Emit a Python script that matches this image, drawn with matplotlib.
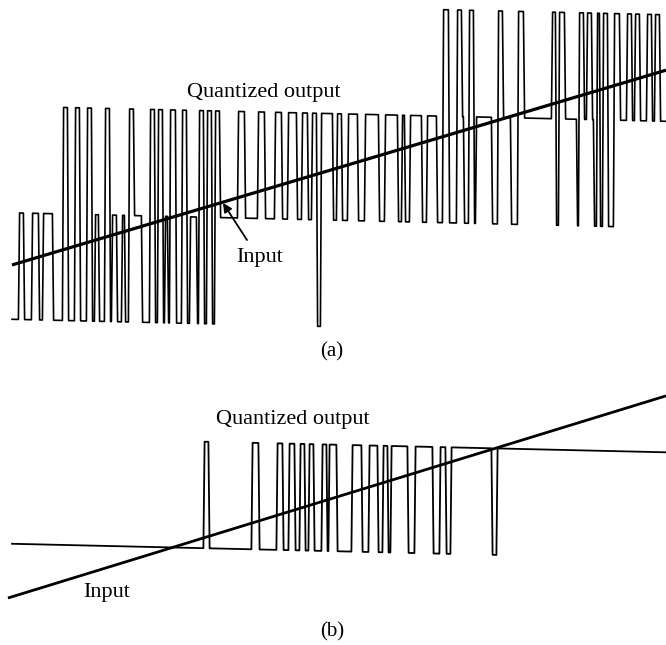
import numpy as np
import matplotlib
matplotlib.use("Agg")
import matplotlib.pyplot as plt
from matplotlib.transforms import Affine2D

# (a) four-level quantizer: edge positions and the level index after each edge
a_edges = [12, 19, 24, 32, 39, 43, 53, 63, 68, 75, 80, 87, 92, 95, 99, 105, 110,
           112, 117, 122, 125, 129, 134, 142, 150, 155, 158, 163, 165, 168, 170,
           176, 182, 187, 190, 197, 199, 204, 207, 212, 215, 220, 238, 245, 258,
           265, 275, 282, 288, 297, 302, 308, 312, 317, 321, 333, 337, 342, 348,
           358, 365, 379, 385, 398, 402, 405, 410, 422, 427, 437, 443, 449, 457,
           462, 464, 469, 474, 476, 492, 498, 503, 511, 518, 524, 552, 556, 559,
           565, 577, 579, 584, 587, 592, 594, 597, 600, 603, 608, 614, 620, 627,
           632, 635, 640, 647, 652, 655, 660]
a_levels = [0, 1, 0, 1, 0, 1, 0, 2, 0, 2, 0, 2, 0, 1, 0, 2, 0,
            1, 0, 1, 0, 2, 1, 0, 2, 0, 2, 0, 1, 0, 2,
            0, 2, 0, 1, 0, 2, 0, 2, 0, 2, 1, 2, 1, 2,
            1, 2, 1, 2, 1, 2, 1, 2, 0, 2, 1, 2, 1, 2,
            1, 2, 1, 2, 1, 2, 1, 2, 1, 2, 1, 3, 1, 3,
            2, 1, 3, 1, 2, 1, 3, 2, 1, 3, 2, 3, 1, 3,
            2, 1, 3, 2, 3, 2, 1, 3, 1, 3, 1, 3, 2, 3,
            2, 3, 2, 3, 2, 3, 2]
a_end = 666
a_level_values = [-1.5, -0.5, 0.5, 1.5]
a_input_x = [12, 666]
a_input_y = [-0.99, 0.98]

# (b) two-level quantizer
b_edges = [12, 204, 209, 252, 259, 277, 283, 289, 295, 300, 305, 309, 314, 322,
           327, 329, 337, 352, 362, 369, 378, 383, 388, 391, 408, 415, 433, 440,
           446, 451, 492, 497]
b_levels = [0, 1, 0, 1, 0, 1, 0, 1, 0, 1, 0, 1, 0, 1,
            0, 1, 0, 1, 0, 1, 0, 1, 0, 1, 0, 1, 0, 1,
            0, 1, 0, 1]
b_end = 666
b_level_values = [-0.5, 0.5]
b_input_x = [8, 666]
b_input_y = [-1.01, 1.03]

W, H = 666, 645
plt.rcParams['font.family'] = ['Liberation Serif', 'DejaVu Serif']


def step_path(edges, levels, end, values, slant=1.2):
    bounds = list(edges) + [end]
    xs, ys = [], []
    n = len(levels)
    for i, lev in enumerate(levels):
        x0 = bounds[i] + (slant / 2 if i > 0 else 0)
        x1 = bounds[i + 1] - (slant / 2 if i < n - 1 else 0)
        xs += [x0, x1]
        ys += [values[lev], values[lev]]
    return xs, ys


def tilted(ax, k):
    # the scanned original drifts slightly downward to the right
    return Affine2D(np.array([[1, 0, 0], [-k, 1, 0], [0, 0, 1]])) + ax.transData


fig = plt.figure(figsize=(W / 100, H / 100), dpi=100)

# panel (a): pixel rows 0..340
ax_a = fig.add_axes([0, 1 - 340 / H, 1, 340 / H])
ax_a.set_xlim(0, W)
ax_a.set_ylim(-1.697, 1.495)
ax_a.axis('off')
tr_a = tilted(ax_a, 0.023 / 106.5)
xs, ys = step_path(a_edges, a_levels, a_end, a_level_values)
ax_a.plot(xs, ys, color='black', lw=1.2, transform=tr_a, clip_on=False)
ax_a.plot(a_input_x, a_input_y, color='black', lw=2.3, transform=tr_a,
          solid_capstyle='butt', clip_on=False)

# panel (b): pixel rows 370..645
ax_b = fig.add_axes([0, 0, 1, 275 / H])
ax_b.set_xlim(0, W)
ax_b.set_ylim(-1.453, 1.129)
ax_b.axis('off')
tr_b = tilted(ax_b, 0.023 / 106.5)
xs, ys = step_path(b_edges, b_levels, b_end, b_level_values)
ax_b.plot(xs, ys, color='black', lw=1.3, transform=tr_b, clip_on=False)
ax_b.plot(b_input_x, b_input_y, color='black', lw=2.0, transform=tr_b,
          solid_capstyle='butt', clip_on=False)


def px(x, y):
    return x / W, 1 - y / H


fs = 16
fig.text(*px(187, 97), "Quantized output", fontsize=fs, ha='left', va='baseline')
fig.text(*px(236, 262), "Input", fontsize=fs, ha='left', va='baseline')
fig.text(*px(332, 352), "(a)", fontsize=15, ha='center', va='center')
fig.text(*px(216, 424), "Quantized output", fontsize=fs, ha='left', va='baseline')
fig.text(*px(83, 597), "Input", fontsize=fs, ha='left', va='baseline')
fig.text(*px(332, 632), "(b)", fontsize=15, ha='center', va='center')

fig.add_artist(matplotlib.patches.FancyArrowPatch(
    px(247, 240), px(223, 203), transform=fig.transFigure,
    arrowstyle='-|>', mutation_scale=13, lw=1.3, color='black',
    shrinkA=0, shrinkB=0))

fig.savefig('out.png', dpi=100)
